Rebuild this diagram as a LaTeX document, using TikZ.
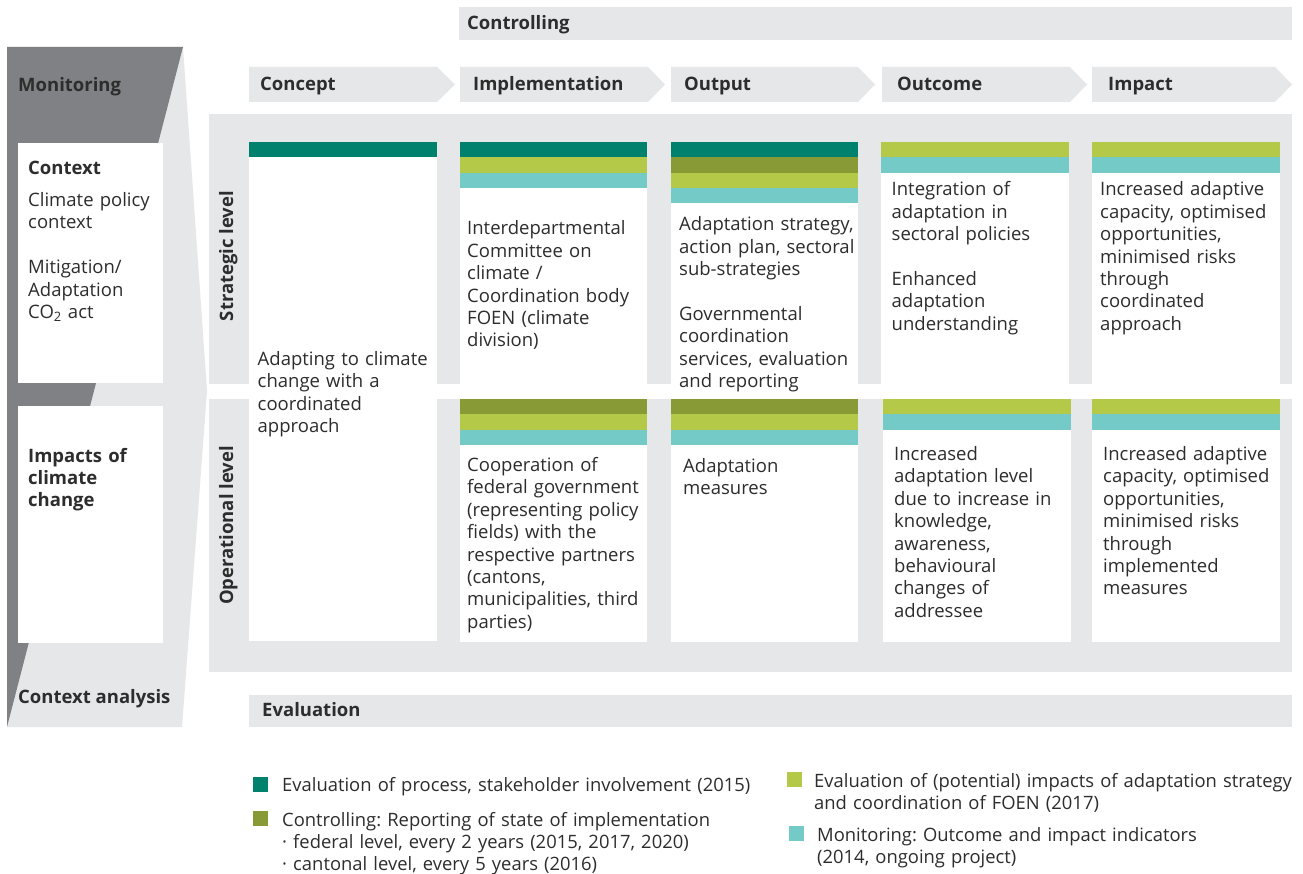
\documentclass[tikz,border=0pt]{standalone}
\usepackage{fontspec}
\setmainfont{Open Sans}
\usepackage{tikz}
\frenchspacing
\definecolor{hellgrau}{HTML}{E6E7E8}
\definecolor{dunkelgrau}{HTML}{808184}
\definecolor{schrift}{HTML}{2D2D2D}
\definecolor{prozess}{HTML}{00816D}
\definecolor{reporting}{HTML}{879A36}
\definecolor{wirkung}{HTML}{B3C947}
\definecolor{indikator}{HTML}{74CAC7}

\begin{document}
\begin{tikzpicture}[x=1pt,y=-1pt,
  every node/.style={text=schrift,inner sep=0pt,font=\fontsize{18.5}{22.4}\selectfont},
  kopf/.style={anchor=base west,font=\fontsize{18.5}{22.4}\selectfont\bfseries},
  inhalt/.style={anchor=base west,text width=#1,align=left},
  inhalt/.default=186pt,
  legende/.style={anchor=base west,text width=490pt,align=left,font=\fontsize{18.4}{22.4}\selectfont},
  feld/.style={minimum size=15pt,anchor=north west}]
  \useasboundingbox (0,0) rectangle (1303,874);
  \fill[white] (0,0) rectangle (1303,874);
  % Controlling / Evaluation
  \fill[hellgrau] (459,7) rectangle (1292,40);
  \fill[hellgrau] (249,695) rectangle (1292,727);
  \node[kopf] (controlling) at (467,30) {Controlling};
  \node[kopf] (evaluation) at (262,716) {Evaluation};
  % Monitoring / Context analysis
  \fill[hellgrau] (7,47) -- (183,47) -- (207,391) -- (182,727) -- (7,727) -- cycle;
  \fill[dunkelgrau] (7,47) -- (183,47) -- (7,727) -- cycle;
  \fill[white] (18,143) rectangle (163,383);
  \fill[white] (18,406) rectangle (163,643);
  \node[kopf] (monitoring) at (18,92) {Monitoring};
  \node[kopf] (analyse) at (18,703) {Context analysis};
  \node[kopf] (context) at (28,175) {Context};
  \node[inhalt=134pt] (politik) at (28,206.5) {Climate policy\\context\\[22.4pt]Mitigation/\\Adaptation\\CO\textsubscript{2} act};
  \node[inhalt=134pt,font=\fontsize{18.5}{22.4}\selectfont\bfseries] (folgen) at (28,462) {Impacts of\\climate\\change};
  % Kette
  \foreach \a/\b/\c in {249/437/455,460/648/665,671/858/875,882/1070/1087,1092/1275/1292}
    \fill[hellgrau] (\a,67) -- (\b,67) -- (\c,84.5) -- (\b,102) -- (\a,102) -- cycle;
  \path (260,91) node[kopf] (concept) {Concept}
    ++(213,0) node[kopf] (implementation) {Implementation}
    ++(211,0) node[kopf] (output) {Output}
    ++(213,0) node[kopf] (outcome) {Outcome}
    ++(211,0) node[kopf] (impact) {Impact};
  % Ebenen
  \fill[hellgrau] (209,114) rectangle (1292,384);
  \fill[hellgrau] (209,399) rectangle (1292,672);
  \node[kopf,anchor=base,rotate=90] (strategisch) at (233,256) {Strategic level};
  \node[kopf,anchor=base,rotate=90] (operativ) at (233,525.5) {Operational level};
  \foreach \a/\b in {460/647,671/858,1092/1280} {
    \fill[white] (\a,142) rectangle (\b,384);
    \fill[white] (\a,399) rectangle (\b,642);
  }
  \fill[white] (881,142) rectangle (1069,384);
  \fill[white] (883,399) rectangle (1071,642);
  \fill[white] (249,142) rectangle (437,641);
  % Balken
  \foreach \a/\b/\t/\farben in {249/437/142/{prozess},
      460/647/142/{prozess,wirkung,indikator},
      671/858/142/{prozess,reporting,wirkung,indikator},
      881/1069/142/{wirkung,indikator},
      1092/1280/142/{wirkung,indikator},
      460/647/399/{reporting,wirkung,indikator},
      671/858/399/{reporting,wirkung,indikator},
      883/1071/399/{wirkung,indikator},
      1092/1280/399/{wirkung,indikator}}
    \foreach \f [count=\i from 0] in \farben
      \fill[\f] (\a,{\t+\i*15.3}) rectangle (\b,{\t+\i*15.3+15.4});
  % Texte
  \node[inhalt] (konzept) at (257.5,365.5) {Adapting to climate\\change with a\\coordinated\\approach};
  \node[inhalt] (ausschuss) at (467,235) {Interdepartmental\\Committee on\\climate /\\Coordination body\\FOEN (climate\\division)};
  \node[inhalt] (strategie) at (679,231) {Adaptation strategy,\\action plan, sectoral\\sub-strategies\\[22.4pt]Governmental\\coordination\\services, evaluation\\and reporting};
  \node[inhalt] (integration) at (891.5,196) {Integration of\\adaptation in\\sectoral policies\\[22.4pt]Enhanced\\adaptation\\understanding};
  \node[inhalt] (kapazitaet) at (1100,196) {Increased adaptive\\capacity, optimised\\opportunities,\\minimised risks\\through\\coordinated\\approach};
  \node[inhalt] (kooperation) at (467,471.5) {Cooperation of\\federal government\\(representing policy\\fields) with the\\respective partners\\(cantons,\\municipalities, third\\parties)};
  \node[inhalt] (massnahmen) at (683,472) {Adaptation\\measures};
  \node[inhalt] (niveau) at (894,460.5) {Increased\\adaptation level\\due to increase in\\knowledge,\\awareness,\\behavioural\\changes of\\addressee};
  \node[inhalt] (umsetzung) at (1103,460.5) {Increased adaptive\\capacity, optimised\\opportunities,\\minimised risks\\through\\implemented\\measures};
  % Legende
  \node[feld,fill=prozess] (l1) at (253,777) {};
  \node[feld,fill=reporting] (l2) at (253,811) {};
  \node[feld,fill=wirkung] (l3) at (787,772) {};
  \node[feld,fill=indikator] (l4) at (789,826) {};
  \node[legende] (t1) at (282,791) {Evaluation of process, stakeholder involvement (2015)};
  \node[legende] (t2) at (282,826) {Controlling: Reporting of state of implementation\\· federal level, every 2 years (2015, 2017, 2020)\\· cantonal level, every 5 years (2016)};
  \node[legende] (t3) at (814,787) {Evaluation of (potential) impacts of adaptation strategy\\and coordination of FOEN (2017)};
  \node[legende] (t4) at (817,841) {Monitoring: Outcome and impact indicators\\(2014, ongoing project)};
\end{tikzpicture}
\end{document}
